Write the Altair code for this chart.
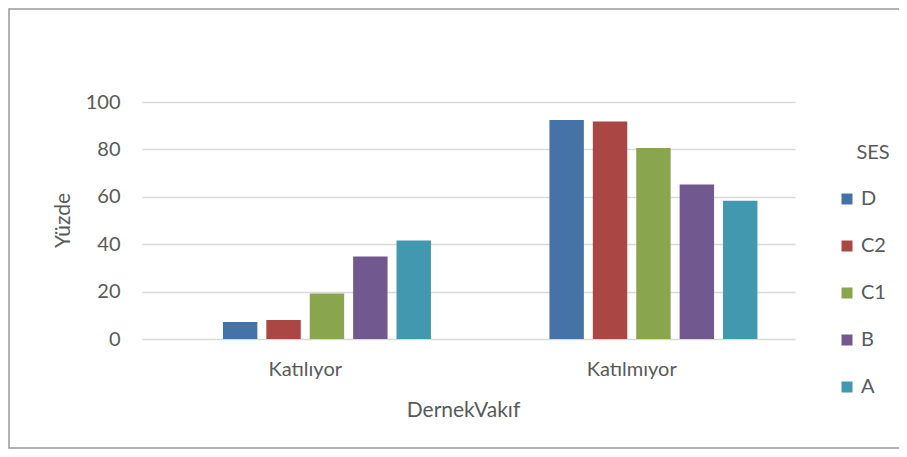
import altair as alt
import pandas as pd

categories = ["Katılıyor", "Katılmıyor"]
series = ["D", "C2", "C1", "B", "A"]
colors = ["#4572A7", "#AA4643", "#89A54E", "#71588F", "#4198AF"]
values = {
    "D": [7.2, 92.4],
    "C2": [8.0, 91.8],
    "C1": [19.2, 80.6],
    "B": [34.8, 65.2],
    "A": [41.6, 58.3],
}

rows = []
for s in series:
    for c, v in zip(categories, values[s]):
        rows.append({"DernekVakif": c, "SES": s, "Yuzde": v})
df = pd.DataFrame(rows)

FONT = "Lato"
GREY = "#595959"

bars = alt.Chart(df).mark_bar().encode(
    x=alt.X("DernekVakif:N", sort=categories,
            scale=alt.Scale(paddingInner=0.23, paddingOuter=0.115),
            axis=alt.Axis(title="DernekVakıf", labelAngle=0, ticks=False, tickSize=0,
                          domain=False, labelPadding=20, labelFontSize=20,
                          labelColor=GREY, labelFont=FONT,
                          titleFont=FONT, titleFontSize=21, titleColor=GREY,
                          titleFontWeight="normal",
                          titleX=321, titleY=71, titleBaseline="middle",
                          titleAlign="center")),
    xOffset=alt.XOffset("SES:N", scale=alt.Scale(domain=["_"] + series,
                                                  paddingInner=0.207, paddingOuter=0)),
    y=alt.Y("Yuzde:Q", scale=alt.Scale(domain=[0, 100], nice=False),
            axis=alt.Axis(title="Yüzde", values=[0, 20, 40, 60, 80, 100],
                          ticks=False, tickSize=0, domain=False, labelPadding=22,
                          labelFontSize=20, labelColor=GREY, labelFont=FONT,
                          grid=True, gridColor="#d9d9d9", gridWidth=1.5,
                          titleFont=FONT, titleFontSize=21, titleColor=GREY,
                          titleFontWeight="normal",
                          titleX=-79, titleY=118, titleAngle=270,
                          titleBaseline="middle", titleAlign="center")),
    color=alt.Color("SES:N", scale=alt.Scale(domain=series, range=colors),
                    legend=alt.Legend(title=None, orient="none", legendX=695, legendY=87,
                                      symbolType="square", symbolSize=121,
                                      symbolStrokeWidth=0,
                                      labelFontSize=20, labelColor=GREY, labelFont=FONT,
                                      labelOffset=4, rowPadding=27)),
)

ses_title = alt.Chart(alt.Data(values=[{}])).mark_text(
    text="SES", font=FONT, fontSize=20, color=GREY, align="center", baseline="middle"
).encode(x=alt.value(731), y=alt.value(51))

frame = alt.Chart(alt.Data(values=[{}])).mark_rect(
    fill=None, stroke="#999999", strokeWidth=1.5
).encode(x=alt.value(-133), x2=alt.value(900), y=alt.value(-93), y2=alt.value(346))

chart = alt.layer(frame, bars, ses_title).properties(
    width=653, height=237,
    autosize=alt.AutoSizeParams(type="none"),
    padding={"left": 134, "top": 94, "right": 104, "bottom": 110},
).configure_view(stroke=None)

chart.save("out.html", embed_options={"renderer": "svg", "actions": False})
